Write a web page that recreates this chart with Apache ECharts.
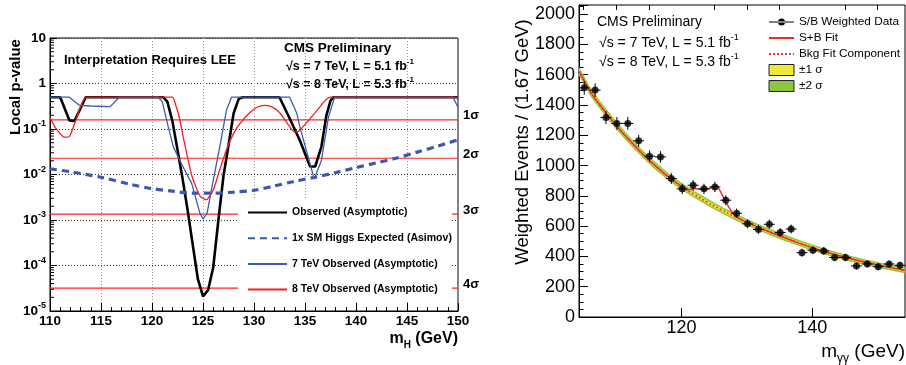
<!DOCTYPE html>
<html><head><meta charset="utf-8">
<script src="https://cdn.jsdelivr.net/npm/echarts@6/dist/echarts.min.js"></script>
<style>html,body{margin:0;padding:0;background:#fff}#c{width:906px;height:365px}</style>
</head><body><div id="c"></div>
<script>
// ---------- LEFT PANEL DATA (m_H [GeV], local p-value) ----------
const observed = [[110,0.5],[111,0.5],[111.9,0.155],[112.4,0.15],[113.5,0.5],[121.1,0.5],[121.5,0.4],[122.0,0.15],[122.5,0.035],[123.0,0.008],[123.5,1.6e-3],[124.0,2.8e-4],[124.5,5e-5],[125.0,2.1e-5],[125.5,2.9e-5],[126.0,9e-5],[126.5,9.5e-4],[127.0,9e-3],[127.5,0.044],[128.0,0.22],[128.5,0.46],[128.9,0.5],[132.5,0.5],[133.5,0.17],[134.5,0.056],[135.5,0.015],[136.0,0.015],[136.6,0.04],[137.1,0.2],[137.5,0.42],[137.8,0.5],[150,0.5]];
const expected = [[110,0.0133],[112,0.0115],[115,0.0087],[118,0.006],[120,0.0049],[122,0.0043],[124,0.0039],[126,0.0039],[128,0.0041],[130,0.0045],[132,0.0056],[134,0.0071],[136,0.0087],[138,0.011],[140,0.0142],[142,0.018],[144,0.023],[146,0.031],[148,0.042],[150,0.058]];
const obs7TeV = [[110,0.5],[111.9,0.5],[112.9,0.33],[114,0.32],[115.9,0.31],[116.8,0.5],[120.6,0.5],[121.0,0.4],[121.6,0.11],[122.1,0.04],[122.9,0.017],[123.9,6.3e-3],[124.7,1.4e-3],[125.0,1.05e-3],[125.4,1.4e-3],[126.0,7.4e-3],[126.7,0.047],[127.3,0.26],[127.8,0.5],[133.5,0.5],[134.2,0.22],[134.5,0.11],[135.5,0.017],[135.9,8e-3],[136.6,0.02],[137.3,0.18],[137.9,0.5],[149.5,0.5],[150,0.3]];
const obs8TeV = [[110,0.18],[110.5,0.11],[111.4,0.066],[111.9,0.068],[112.5,0.15],[113.1,0.36],[113.6,0.5],[122.0,0.5],[122.3,0.35],[122.7,0.17],[123.1,0.06],[123.9,9.5e-3],[124.7,3.4e-3],[125.3,2.8e-3],[126.0,4.5e-3],[126.6,0.012],[127.3,0.035],[128.0,0.08],[128.6,0.13],[129.5,0.22],[130.3,0.3],[131.0,0.33],[131.7,0.31],[132.5,0.23],[133.3,0.13],[134.0,0.085],[134.4,0.09],[135.3,0.15],[136.2,0.26],[137.0,0.43],[137.5,0.5],[150,0.5]];
const sigmaLevels = [0.1587, 0.02275, 0.00135, 3.167e-5];
const sigmaLabels = ['1σ', '2σ', '3σ', '4σ'];
const massRange = [110, 150];
const leftLegend = ['Observed (Asymptotic)', '1x SM Higgs Expected (Asimov)', '7 TeV Observed (Asymptotic)', '8 TeV Observed (Asymptotic)'];
const decadeStarts = [1e-5, 1e-4, 1e-3, 1e-2, 1e-1, 1];
const minorMultipliers = [2, 3, 4, 5, 6, 7, 8, 9];

// ---------- RIGHT PANEL DATA (m_gg [GeV], weighted events) ----------
const dataMass = [105.1,106.77,108.43,110.1,111.77,113.43,115.1,116.77,118.43,120.1,121.77,123.43,125.1,126.77,128.43,130.1,131.77,133.43,135.1,136.77,138.43,140.1,141.77,143.43,145.1,146.77,148.43,150.1,151.77,153.43];
const dataEvents = [1513,1498,1317,1278,1278,1163,1062,1057,914,846,870,846,859,771,685,615,578,612,558,581,425,441,436,393,393,337,350,332,350,341];
const dataErr = [45,45,43,42,42,40,38,38,36,34,35,34,34,33,31,30,29,30,29,29,26,26,26,25,25,23,23,23,23,23];
const binHalfWidth = 0.835;
const bkgMass = [104.3,106,108,110,112,114,116,118,120,122,124,126,128,130,132,134,136,138,140,142,144,146,148,150,152,154.2];
const bkgEvents = [1623,1490,1372,1265,1168,1078,998,925,862,808,757,710,666,625,588,553,520,488,458,431,406,384,363,344,326,308];
const err2sigma = [30,29,28,27,26,25,25,24,24,23,23,22,22,22,21,21,21,20,20,20,20,19,19,19,19,19];
const err1sigma = [15,14,14,13,13,12,12,12,12,11,11,11,11,11,10,10,10,10,10,10,10,9,9,9,9,9];
const sbMass = [104.3,106,108,110,112,114,116,118,120,121,121.8,122.7,123.6,124.5,125.3,126.0,126.6,127.3,127.9,128.5,129.2,130,132,134,136,138,140,142,144,146,148,150,152,154.2];
const sbEvents = [1623,1490,1372,1265,1168,1078,998,925,862,838,848,845,842,852,868,825,775,720,684,660,641,625,588,553,520,488,458,431,406,384,363,344,326,308];
const rightXMajor = [120, 140];
const rightXMinor = [105, 110, 115, 125, 130, 135, 145, 150];

const FONT = 'Liberation Sans';
const minorTickValues = [];
decadeStarts.forEach(d => minorMultipliers.forEach(m => minorTickValues.push(d * m)));

const chart = echarts.init(document.getElementById('c'), null, {renderer: 'canvas'});

function bandRenderer(errArr, color) {
  return function (params, api) {
    if (params.dataIndex !== 0) return null;
    const up = [], lo = [];
    for (let i = 0; i < bkgMass.length; i++) {
      up.push(api.coord([bkgMass[i], bkgEvents[i] + errArr[i]]));
      lo.push(api.coord([bkgMass[i], bkgEvents[i] - errArr[i]]));
    }
    return {type: 'polygon', shape: {points: up.concat(lo.reverse())}, style: {fill: color}};
  };
}

const supRich = (sz, bold) => ({
  t: {fontSize: sz, fontWeight: bold ? 'bold' : 'normal', fontFamily: FONT, lineHeight: sz + 6, color: '#000'},
  s: {fontSize: Math.round(sz * 0.65), fontWeight: bold ? 'bold' : 'normal', fontFamily: FONT, verticalAlign: 'top', lineHeight: 8, color: '#000'},
  u: {fontSize: Math.round(sz * 0.65), fontWeight: bold ? 'bold' : 'normal', fontFamily: FONT, verticalAlign: 'bottom', lineHeight: 8, color: '#000'}
});

function txt(x, y, text, sz, bold, align, rot) {
  return {type: 'text', x: x, y: y, rotation: rot || 0, z: 10,
    style: {text: text, rich: supRich(sz, bold), fontSize: sz, fontWeight: bold ? 'bold' : 'normal', fontFamily: FONT,
      align: align || 'left', verticalAlign: 'middle', fill: '#000'}};
}

const sigmaSeries = sigmaLevels.map((v, i) => ({
  type: 'line', name: 'sigma' + (i + 1), xAxisIndex: 0, yAxisIndex: 0, silent: true, symbol: 'none', z: 1,
  data: [[massRange[0], v], [massRange[1], v]],
  lineStyle: {color: '#f22', width: 1.2},
  endLabel: {show: true, formatter: sigmaLabels[i], color: '#000', fontSize: 13, fontWeight: 'bold', fontFamily: FONT,
    distance: 5, offset: [0, -4]}
}));

const option = {
  animation: false,
  textStyle: {fontFamily: FONT},
  grid: [
    {left: 50, top: 38, width: 408, height: 273, show: true, borderColor: '#000', borderWidth: 1},
    {left: 579, top: 5, width: 326, height: 312, show: true, borderColor: '#000', borderWidth: 1}
  ],
  xAxis: [
    {type: 'value', gridIndex: 0, min: massRange[0], max: massRange[1], interval: 5,
      axisLine: {show: true, onZero: false, lineStyle: {color: '#000'}},
      axisTick: {inside: true, length: 8, lineStyle: {color: '#000'}},
      minorTick: {show: true, splitNumber: 5, length: 4, lineStyle: {color: '#000'}},
      axisLabel: {margin: 3, color: '#000', fontSize: 13.5, fontWeight: 'bold', fontFamily: FONT},
      splitLine: {show: true, lineStyle: {color: '#999', type: [1, 2], width: 1}}},
    {type: 'value', gridIndex: 1, min: 104.3, max: 154.2,
      axisLine: {show: true, onZero: false, lineStyle: {color: '#000'}},
      axisTick: {inside: true, length: 9, customValues: rightXMajor, lineStyle: {color: '#000'}},
      axisLabel: {margin: 2, color: '#000', fontSize: 18, fontFamily: FONT, customValues: rightXMajor},
      splitLine: {show: false}},
    {type: 'value', gridIndex: 1, min: 104.3, max: 154.2,
      axisLine: {show: false, onZero: false},
      axisTick: {inside: true, length: 5, customValues: rightXMinor, lineStyle: {color: '#000'}},
      axisLabel: {show: false}, splitLine: {show: false}}
  ],
  yAxis: [
    {type: 'log', gridIndex: 0, logBase: 10, min: 1e-5, max: 10, interval: 1, splitNumber: 6,
      axisLine: {show: true, lineStyle: {color: '#000'}},
      axisTick: {inside: true, length: 7, lineStyle: {color: '#000'}},
      axisLabel: {margin: 4, color: '#000',
        formatter: v => { const e = Math.round(Math.log10(v)); if (e === 0) return '{t|1}'; if (e === 1) return '{t|10}'; return '{t|10}{s|' + e + '}'; },
        rich: supRich(13.5, true)},
      splitLine: {show: true, lineStyle: {color: '#333', type: [1, 2], width: 1}}},
    {type: 'value', gridIndex: 1, min: 0, max: 2060, interval: 200,
      axisLine: {show: true, lineStyle: {color: '#000'}},
      axisTick: {inside: true, length: 9, lineStyle: {color: '#000'}},
      minorTick: {show: true, splitNumber: 4, length: 4.5, lineStyle: {color: '#000'}},
      axisLabel: {margin: 4, color: '#000', fontSize: 18, fontFamily: FONT, showMaxLabel: false, formatter: v => String(v)},
      splitLine: {show: false}}
  ],
  legend: [
    {data: leftLegend, orient: 'vertical', left: 238, top: 200, itemWidth: 39, itemHeight: 12, itemGap: 14.7,
      backgroundColor: '#fff', padding: [7, 0, 7, 9], selectedMode: false, z: 6,
      itemStyle: {opacity: 0},
      textStyle: {fontSize: 10.5, fontWeight: 'bold', color: '#000', fontFamily: FONT}},
    {data: [
        {name: 'S/B Weighted Data', icon: 'path://M0,4L25,4L25,5L0,5Z M9,4.5A3.5,3.5 0 1,0 16,4.5A3.5,3.5 0 1,0 9,4.5Z', itemStyle: {color: '#000', opacity: 1}},
        {name: 'S+B Fit'},
        {name: 'Bkg Fit Component'},
        {name: '±1 σ', icon: 'rect', itemStyle: {color: '#eeea35', borderColor: '#222', borderWidth: 1, opacity: 1}},
        {name: '±2 σ', icon: 'rect', itemStyle: {color: '#8cc63f', borderColor: '#222', borderWidth: 1, opacity: 1}}
      ],
      orient: 'vertical', left: 768, top: 16, itemWidth: 25, itemHeight: 11, itemGap: 4, padding: 0, selectedMode: false,
      itemStyle: {opacity: 0},
      textStyle: {fontSize: 11.8, lineHeight: 11, color: '#000', fontFamily: FONT}}
  ],
  series: sigmaSeries.concat([
    {type: 'custom', name: 'minorTicksY', xAxisIndex: 0, yAxisIndex: 0, silent: true, z: 3,
      data: minorTickValues.map(v => [massRange[0], v]),
      renderItem: (params, api) => { const p = api.coord([api.value(0), api.value(1)]);
        return {type: 'line', shape: {x1: p[0], y1: p[1], x2: p[0] + 4, y2: p[1]}, style: {stroke: '#000', lineWidth: 1}}; }},
    {type: 'line', name: 'Observed (Asymptotic)', xAxisIndex: 0, yAxisIndex: 0, data: observed, symbol: 'none',
      lineStyle: {color: '#000', width: 2.6}, itemStyle: {color: '#000'}},
    {type: 'line', name: '1x SM Higgs Expected (Asimov)', xAxisIndex: 0, yAxisIndex: 0, data: expected, symbol: 'none', smooth: 0.3,
      lineStyle: {color: '#3a58b0', width: 3.2, type: [7, 5]}, itemStyle: {color: '#3a58b0'}},
    {type: 'line', name: '7 TeV Observed (Asymptotic)', xAxisIndex: 0, yAxisIndex: 0, data: obs7TeV, symbol: 'none',
      lineStyle: {color: '#3a5cb5', width: 1.3}, itemStyle: {color: '#3a5cb5'}},
    {type: 'line', name: '8 TeV Observed (Asymptotic)', xAxisIndex: 0, yAxisIndex: 0, data: obs8TeV, symbol: 'none', smooth: 0.2,
      lineStyle: {color: '#f02020', width: 1.3}, itemStyle: {color: '#f02020'}},

    {type: 'custom', name: '±2 σ', xAxisIndex: 1, yAxisIndex: 1, silent: true, z: 2, itemStyle: {color: '#8cc63f'},
      data: bkgMass.map((m, i) => [m, bkgEvents[i] - err2sigma[i], bkgEvents[i] + err2sigma[i]]),
      encode: {x: 0, y: [1, 2]}, renderItem: bandRenderer(err2sigma, '#8cc63f')},
    {type: 'custom', name: '±1 σ', xAxisIndex: 1, yAxisIndex: 1, silent: true, z: 2, itemStyle: {color: '#eeea35'},
      data: bkgMass.map((m, i) => [m, bkgEvents[i] - err1sigma[i], bkgEvents[i] + err1sigma[i]]),
      encode: {x: 0, y: [1, 2]}, renderItem: bandRenderer(err1sigma, '#eeea35')},
    {type: 'line', name: 'Bkg Fit Component', xAxisIndex: 1, yAxisIndex: 1, symbol: 'none', smooth: true, z: 3,
      data: bkgMass.map((m, i) => [m, bkgEvents[i]]),
      lineStyle: {color: '#f33', width: 1.6, type: [2, 2]}, itemStyle: {color: '#f33'}},
    {type: 'line', name: 'S+B Fit', xAxisIndex: 1, yAxisIndex: 1, symbol: 'none', smooth: 0.2, z: 3,
      data: sbMass.map((m, i) => [m, sbEvents[i]]),
      lineStyle: {color: '#ee2a2a', width: 1.5}, itemStyle: {color: '#ee2a2a'}},
    {type: 'custom', name: 'errbars', xAxisIndex: 1, yAxisIndex: 1, silent: true, z: 4,
      data: dataMass.map((m, i) => [m, dataEvents[i], dataErr[i]]),
      encode: {x: 0, y: 1},
      renderItem: (params, api) => {
        const x = api.value(0), y = api.value(1), e = api.value(2);
        const l = api.coord([x - binHalfWidth, y]), r = api.coord([x + binHalfWidth, y]);
        const b = api.coord([x, y - e]), t = api.coord([x, y + e]);
        return {type: 'group', children: [
          {type: 'line', shape: {x1: l[0], y1: l[1], x2: r[0], y2: r[1]}, style: {stroke: '#000', lineWidth: 1}},
          {type: 'line', shape: {x1: b[0], y1: b[1], x2: t[0], y2: t[1]}, style: {stroke: '#000', lineWidth: 1}}
        ]};
      }},
    {type: 'scatter', name: 'S/B Weighted Data', xAxisIndex: 1, yAxisIndex: 1, z: 5, symbol: 'circle', symbolSize: 7,
      data: dataMass.map((m, i) => [m, dataEvents[i]]), itemStyle: {color: '#000'}}
  ]),
  graphic: [
    txt(16, 87, 'Local p-value', 15, true, 'center', Math.PI / 2),
    txt(64, 60, 'Interpretation Requires LEE', 13, true, 'left'),
    txt(284, 48, 'CMS Preliminary', 13.5, true, 'left'),
    txt(286, 67, '{t|√s = 7 TeV, L = 5.1 fb}{s|-1}', 12.5, true, 'left'),
    txt(286, 85, '{t|√s = 8 TeV, L = 5.3 fb}{s|-1}', 12.5, true, 'left'),
    txt(458, 339, '{t|m}{u|H}{t| (GeV)}', 16, true, 'right'),
    txt(523, 142, 'Weighted Events / (1.67 GeV)', 18.5, false, 'center', Math.PI / 2),
    txt(597, 22, 'CMS Preliminary', 14, false, 'left'),
    txt(599, 43, '{t|√s = 7 TeV, L = 5.1 fb}{s|-1}', 14, false, 'left'),
    txt(599, 62, '{t|√s = 8 TeV, L = 5.3 fb}{s|-1}', 14, false, 'left'),
    txt(905, 352, '{t|m}{u|γγ}{t| (GeV)}', 19, false, 'right')
  ]
};
chart.setOption(option);
</script></body></html>
